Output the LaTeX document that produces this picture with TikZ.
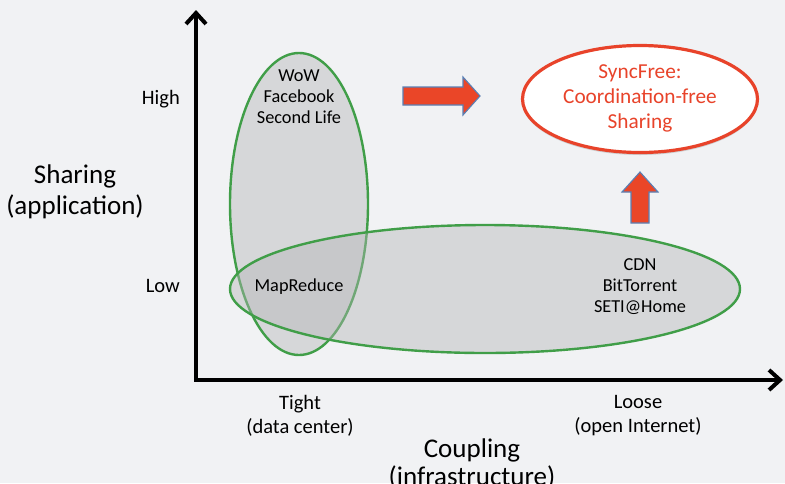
\documentclass[tikz,border=0pt]{standalone}
\usepackage{fontspec}
\setmainfont{Carlito}
\usetikzlibrary{arrows.meta,shapes.geometric,shadows}
\definecolor{bg}{RGB}{241,242,244}
\definecolor{ellgreen}{RGB}{64,158,72}
\definecolor{ellfill}{RGB}{179,180,182}
\definecolor{goalred}{RGB}{232,67,42}
\definecolor{arrowred}{RGB}{234,70,40}
\definecolor{arrowblue}{RGB}{90,128,180}
\tikzset{
  axisbarb/.tip={Straight Barb[length=11pt, width=20pt, line width=4pt]},
  grayell/.style={ellipse, draw=ellgreen, line width=2.4pt, fill=ellfill, fill opacity=0.42, draw opacity=1, inner sep=0pt},
  goalell/.style={ellipse, draw=goalred, line width=3.2pt, fill=white, inner sep=0pt,
    drop shadow={shadow xshift=0pt, shadow yshift=-2.5pt, opacity=0.25, fill=black!60}},
  smalltxt/.style={align=center, inner sep=0pt, font=\fontsize{18.3}{21}\selectfont},
  axistxt/.style={align=center, inner sep=0pt, font=\fontsize{20.5}{24}\selectfont},
  bigtxt/.style={align=center, inner sep=0pt, font=\fontsize{27}{31}\selectfont},
  coupletxt/.style={align=center, inner sep=0pt, font=\fontsize{27}{28}\selectfont},
  redtxt/.style={align=center, inner sep=0pt, text=goalred, font=\fontsize{21.3}{25}\selectfont},
  axisline/.style={line width=4pt, draw=black, line join=miter},
  blockarrow/.style={fill=arrowred, draw=arrowblue, line width=1.1pt, line join=miter}
}
\begin{document}
\begin{tikzpicture}[x=1pt,y=-1pt]
\useasboundingbox (0,0) rectangle (785,483);
\fill[bg] (0,0) rectangle (785,483);

% ellipses
\node[grayell, minimum width=138pt, minimum height=302pt] (tightE) at (299,204) {};
\node[grayell, minimum width=510pt, minimum height=128pt] (looseE) at (485,289) {};
\node[goalell, minimum width=235pt, minimum height=107pt] (goal) at (640,99) {};

% axes
\coordinate (origin) at (196,380);
\coordinate (ytop) at (196,10);
\coordinate (xend) at (783,380);
\draw[axisline, axisbarb-axisbarb] (ytop) -- (origin) -- (xend);

% texts
\node[smalltxt] (wow) at (299,96.5) {WoW\\Facebook\\Second Life};
\node[smalltxt] (mapred) at (299,287) {MapReduce};
\node[smalltxt] (cdn) at (640,286.4) {CDN\\BitTorrent\\SETI@Home};
\node[axistxt, anchor=base east] (high) at (180,104) {High};
\node[axistxt, anchor=base east] (low) at (180,292.7) {Low};
\node[bigtxt] (sharing) at (75,191.4) {Sharing\\(application)};
\node[axistxt] (tight) at (300,415.4) {Tight\\(data center)};
\node[axistxt] (loose) at (638,416) {Loose\\(open Internet)};
\node[coupletxt] (coupling) at (472,463.9) {Coupling\\(infrastructure)};
\node[redtxt] (goaltxt) at (640,98.7) {SyncFree:\\Coordination-free\\Sharing};

% block arrows
\draw[blockarrow] (403,87) -- (463,87) -- (463,77) -- (480,96) -- (463,115) -- (463,105) -- (403,105) -- cycle;
\draw[blockarrow] (631,223) -- (631,192) -- (622,192) -- (640,172) -- (658,192) -- (649,192) -- (649,223) -- cycle;
\end{tikzpicture}
\end{document}
